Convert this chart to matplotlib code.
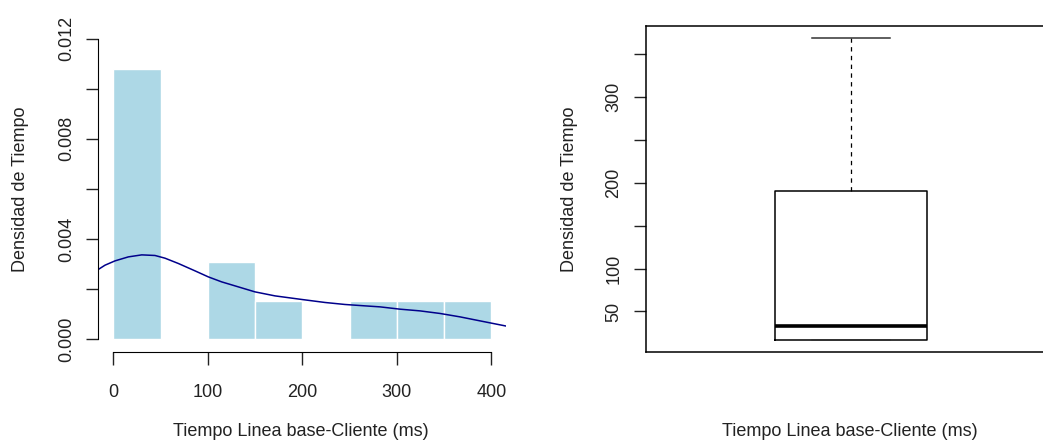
import numpy as np
import matplotlib
matplotlib.use("Agg")
import matplotlib.pyplot as plt

plt.rcParams['font.family'] = ['Liberation Sans', 'DejaVu Sans']

# histogram: bin edges and counts (n = 13)
bin_edges = [0, 50, 100, 150, 200, 250, 300, 350, 400]
bin_counts = [7, 0, 2, 1, 0, 1, 1, 1]

# density curve
dens_x = [-15.9, -8.8, 1.8, 15.9, 30.1, 44.1, 54.7, 68.8, 86.5, 100.5, 114.7,
          128.8, 149.9, 171.1, 199.4, 224.0, 245.2, 266.3, 282.2, 303.4, 324.5,
          345.7, 366.9, 388.0, 416.3]
dens_y = [0.002791, 0.002962, 0.003134, 0.003293, 0.003373, 0.003349, 0.003241,
          0.003030, 0.002735, 0.002496, 0.002296, 0.002137, 0.001898, 0.001738,
          0.001595, 0.001475, 0.001395, 0.001340, 0.001300, 0.001208, 0.001140,
          0.001037, 0.000901, 0.000742, 0.000530]

# boxplot statistics
box_min = 16.8
box_q1 = 16.8
box_med = 32.5
box_q3 = 191
box_max = 369

xlabel = "Tiempo Linea base-Cliente (ms)"
ylabel = "Densidad de Tiempo"

W, H = 1043, 441
fig = plt.figure(figsize=(W / 100, H / 100), dpi=100)

def frac_x(px):
    return px / W

def frac_y(py):
    return 1 - py / H

fs = 13

# ---- left: histogram ----
ax1 = fig.add_axes([frac_x(98.2), frac_y(352), 408.2 / W, 326 / H])
mids = [(a + b) / 2 for a, b in zip(bin_edges[:-1], bin_edges[1:])]
ax1.hist(mids, bins=bin_edges, weights=bin_counts, density=True,
         color='#ADD8E6', edgecolor='white', linewidth=1)
ax1.plot(dens_x, dens_y, color='#00008B', lw=1.1)
ax1.set_xlim(-16, 416)
ax1.set_ylim(-0.0005, 0.0125)
for s in ['top', 'right']:
    ax1.spines[s].set_visible(False)
ax1.spines['left'].set_bounds(0, 0.012)
ax1.spines['bottom'].set_bounds(0, 400)
ax1.set_xticks([0, 100, 200, 300, 400])
ax1.set_yticks(np.arange(0, 0.0121, 0.002))
ax1.set_yticklabels(['0.000', '', '0.004', '', '0.008', '', '0.012'])
ax1.tick_params(axis='both', length=9, width=1, labelsize=fs, colors='#222222',
                pad=14)

# ---- right: boxplot ----
ax2 = fig.add_axes([frac_x(646), frac_y(352), 410 / W, 326 / H])
stats = [dict(whislo=box_min, q1=box_q1, med=box_med, q3=box_q3, whishi=box_max,
              fliers=[])]
ax2.bxp(stats, positions=[1], widths=0.37, capwidths=0.19, showfliers=False,
        boxprops=dict(color='black', lw=1.1),
        medianprops=dict(color='black', lw=2.6, solid_capstyle='butt'),
        whiskerprops=dict(color='black', lw=0.9, linestyle=(0, (3.5, 3.5))),
        capprops=dict(color='#333333', lw=1.1))
ax2.set_xlim(0.5, 1.5)
ax2.set_ylim(2.7, 383)
ax2.set_xticks([])
ax2.set_yticks([50, 100, 150, 200, 250, 300, 350])
ax2.set_yticklabels(['50', '100', '', '200', '', '300', ''])
ax2.tick_params(axis='y', length=9, width=1, labelsize=fs, colors='#222222', pad=14)
for s in ax2.spines.values():
    s.set_linewidth(1.1)

for ax in (ax1, ax2):
    for lab in ax.get_yticklabels():
        lab.set_rotation(90)
        lab.set_va('center')
        lab.set_ha('center')

# axis titles
fig.text(frac_x(301), frac_y(431), xlabel, ha='center', va='center', fontsize=fs, color='#222222')
fig.text(frac_x(850), frac_y(431), xlabel, ha='center', va='center', fontsize=fs, color='#222222')
fig.text(frac_x(21), frac_y(189), ylabel, ha='center', va='center', rotation=90, fontsize=fs, color='#222222')
fig.text(frac_x(569), frac_y(189), ylabel, ha='center', va='center', rotation=90, fontsize=fs, color='#222222')

fig.savefig("out.png", dpi=100)
